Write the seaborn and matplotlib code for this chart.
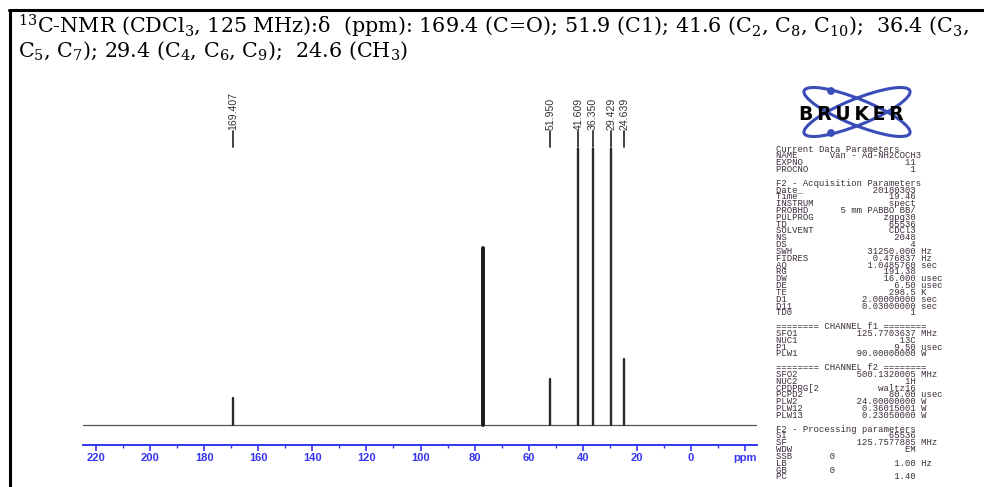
import numpy as np
import pandas as pd
import matplotlib
matplotlib.use("Agg")
import matplotlib.pyplot as plt
import matplotlib.transforms as mtransforms
from matplotlib.patches import Ellipse, Circle
from matplotlib.lines import Line2D
import seaborn as sns

# ---------------- data ----------------
peak_ppm = [169.407, 77.0, 51.950, 41.609, 36.350, 29.429, 24.639]
peak_height = [27, 177, 46, 400, 400, 400, 66]          # px-like intensity units
peak_labelled = [True, False, True, True, True, True, True]

tick_ppm = [220, 200, 180, 160, 140, 120, 100, 80, 60, 40, 20, 0, -20]
tick_labels = ["220", "200", "180", "160", "140", "120", "100", "80", "60", "40", "20", "0", "ppm"]
minor_ppm = [210, 190, 170, 150, 130, 110, 90, 70, 50, 30, 10, -10]

title_line1 = (r"$^{13}$C-NMR (CDCl$_3$, 125 MHz):δ  (ppm): 169.4 (C=O); 51.9 (C1); "
               r"41.6 (C$_2$, C$_8$, C$_{10}$);  36.4 (C$_3$,")
title_line2 = r"C$_5$, C$_7$); 29.4 (C$_4$, C$_6$, C$_9$);  24.6 (CH$_3$)"

# (label, value, unit, value-alignment)  "R": right-aligned column, "L": left column
param_rows = [
    ("Current Data Parameters",), ("NAME", "Van - Ad-NH2COCH3", "", "L"),
    ("EXPNO", "11", "", "R"), ("PROCNO", "1", "", "R"), ("",),
    ("F2 - Acquisition Parameters",), ("Date_", "20180303", "", "R"), ("Time", "19.46", "", "R"),
    ("INSTRUM", "spect", "", "R"), ("PROBHD", "5 mm PABBO BB/", "", "R"),
    ("PULPROG", "zgpg30", "", "R"), ("TD", "65536", "", "R"), ("SOLVENT", "CDCl3", "", "R"),
    ("NS", "2048", "", "R"), ("DS", "4", "", "R"), ("SWH", "31250.000", "Hz", "R"),
    ("FIDRES", "0.476837", "Hz", "R"), ("AQ", "1.0485760", "sec", "R"), ("RG", "191.38", "", "R"),
    ("DW", "16.000", "usec", "R"), ("DE", "6.50", "usec", "R"), ("TE", "298.5", "K", "R"),
    ("D1", "2.00000000", "sec", "R"), ("D11", "0.03000000", "sec", "R"), ("TD0", "1", "", "R"),
    ("",),
    ("======== CHANNEL f1 ========",), ("SFO1", "125.7703637", "MHz", "R"),
    ("NUC1", "13C", "", "R"), ("P1", "9.50", "usec", "R"), ("PLW1", "90.00000000", "W", "R"),
    ("",),
    ("======== CHANNEL f2 ========",), ("SFO2", "500.1320005", "MHz", "R"),
    ("NUC2", "1H", "", "R"), ("CPDPRG[2", "waltz16", "", "R"), ("PCPD2", "80.00", "usec", "R"),
    ("PLW2", "24.00000000", "W", "R"), ("PLW12", "0.36015001", "W", "R"),
    ("PLW13", "0.23050000", "W", "R"), ("",),
    ("F2 - Processing parameters",), ("SI", "65536", "", "R"), ("SF", "125.7577885", "MHz", "R"),
    ("WDW", "EM", "", "R"), ("SSB", "0", "", "L"), ("LB", "1.00", "Hz", "R"),
    ("GB", "0", "", "L"), ("PC", "1.40", "", "R"),
]

# ---------------- style ----------------
sns.set_theme(style="white")
plt.rcParams["font.family"] = ["Liberation Sans", "DejaVu Sans"]
plt.rcParams["mathtext.default"] = "regular"

W, H = 984, 487
fig = plt.figure(figsize=(W / 100, H / 100), dpi=100)
fig.patch.set_facecolor("white")

def fx(x):
    return x / W

def fy(y):
    return 1 - y / H

BLUE = "#3434f0"

# ---------------- spectrum axes ----------------
ax = fig.add_axes([fx(83), fy(445), (757 - 83) / W, (445 - 148) / H])
ax.set_facecolor("none")

rows = []
for i, (s, h) in enumerate(zip(peak_ppm, peak_height)):
    rows.append(dict(peak=i, ppm=s, I=0.0))
    rows.append(dict(peak=i, ppm=s, I=float(h)))
df = pd.DataFrame(rows)
solvent = df["peak"] == 1
sns.lineplot(data=df[~solvent], x="ppm", y="I", units="peak", estimator=None, sort=False,
             color="#2a2a2a", lw=1.7, ax=ax, legend=False)
sns.lineplot(data=df[solvent], x="ppm", y="I", units="peak", estimator=None, sort=False,
             color="#1a1a1a", lw=2.8, ax=ax, legend=False)
ax.axhline(0, color="#555555", lw=0.9, zorder=1)

ax.set_xlim(224.8, -24.4)
ax.set_ylim(-20, 277)
ax.set_xlabel("")
ax.set_ylabel("")
ax.set_yticks([])
for sp in ["left", "top", "right"]:
    ax.spines[sp].set_visible(False)
ax.spines["bottom"].set_color(BLUE)
ax.spines["bottom"].set_linewidth(1.4)

ax.set_xticks(tick_ppm)
ax.set_xticklabels(tick_labels)
ax.set_xticks(minor_ppm, minor=True)
ax.tick_params(axis="x", which="major", bottom=True, direction="out", length=4, width=1.2,
               color=BLUE, labelcolor=BLUE, labelsize=8, pad=2)
ax.tick_params(axis="x", which="minor", bottom=True, direction="out", length=2.2, width=1.0,
               color=BLUE)
for t in ax.get_xticklabels():
    t.set_fontweight("bold")
    t.set_family("Liberation Sans")

# peak labels
blend = mtransforms.blended_transform_factory(ax.transData, ax.transAxes)
for s, lab in zip(peak_ppm, peak_labelled):
    if not lab:
        continue
    ax.plot([s, s], [1.004, 1.057], transform=blend, clip_on=False, color="#333333", lw=1.3)
    ax.text(s, 1.062, f"{s:.3f}", transform=blend, rotation=90, ha="center", va="bottom",
            fontsize=7.6, family="Liberation Sans", color="#333333", clip_on=False)

# ---------------- title ----------------
fig.text(fx(18), fy(33), title_line1, fontsize=14.9, family="DejaVu Serif",
         ha="left", va="baseline", color="black")
fig.text(fx(18), fy(57), title_line2, fontsize=14.9, family="DejaVu Serif",
         ha="left", va="baseline", color="black")

# frame lines (left / top)
fig.add_artist(Line2D([fx(9.5), fx(9.5)], [0, fy(9.5)], color="black", lw=2.2))
fig.add_artist(Line2D([fx(8.5), 1], [fy(9.5), fy(9.5)], color="black", lw=2.2))

# ---------------- Bruker logo ----------------
lax = fig.add_axes([fx(780), fy(142), 150 / W, 60 / H])
lax.set_xlim(780, 930)
lax.set_ylim(142, 82)
lax.axis("off")
LOGO = "#3a4cb8"
for ang in (22, -22):
    lax.add_patch(Ellipse((857, 112), 114, 26, angle=ang, fill=False, ec=LOGO, lw=2.2))
lax.add_patch(Circle((831, 91), 3.2, color=LOGO))
lax.add_patch(Circle((831, 133), 3.2, color=LOGO))
lax.text(851, 114.5, "\u2009".join("BRUKER"), fontsize=13.5, fontweight="bold",
         family="DejaVu Sans", ha="center", va="center", color="black", zorder=5)

# ---------------- parameter block (one monospaced text per row) ----------------
pkw = dict(family="Liberation Mono", fontsize=6.4, color="#3a2c3a", va="center", ha="left")
for i, r in enumerate(param_rows):
    if len(r) == 1:
        line = r[0]
    else:
        label, value, unit, align = r
        if align == "L":
            line = f"{label:<10}{value}"
        else:
            line = f"{label:<10}{value:>16} {unit}".rstrip()
    if not line:
        continue
    fig.text(fx(776), fy(149 + i * 6.83), line, **pkw)

fig.savefig("out.png", dpi=100)
